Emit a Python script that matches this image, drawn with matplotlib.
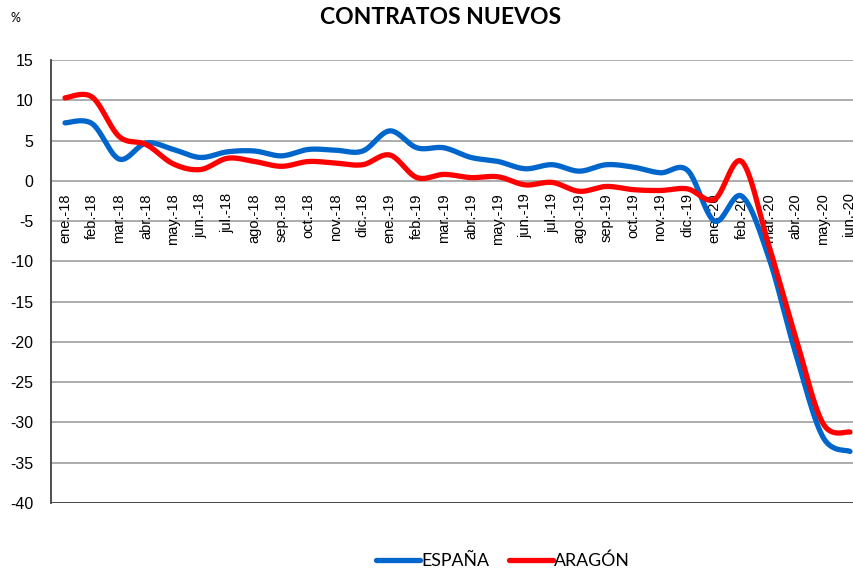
import numpy as np
import matplotlib
matplotlib.use('Agg')
import matplotlib.pyplot as plt
from matplotlib.lines import Line2D

# 데이터
meses = ['ene.-18', 'feb.-18', 'mar.-18', 'abr.-18', 'may.-18', 'jun.-18',
         'jul.-18', 'ago.-18', 'sep.-18', 'oct.-18', 'nov.-18', 'dic.-18',
         'ene.-19', 'feb.-19', 'mar.-19', 'abr.-19', 'may.-19', 'jun.-19',
         'jul.-19', 'ago.-19', 'sep.-19', 'oct.-19', 'nov.-19', 'dic.-19',
         'ene.-20', 'feb.-20', 'mar.-20', 'abr.-20', 'may.-20', 'jun.-20']

espana = [7.2, 7.1, 2.7, 4.7, 3.9, 2.9, 3.6, 3.7, 3.1, 3.9, 3.8, 3.7,
          6.2, 4.1, 4.1, 2.9, 2.4, 1.5, 2.0, 1.2, 2.0, 1.7, 1.0, 1.3,
          -5.0, -1.9, -9.5, -21.5, -31.8, -33.6]

aragon = [10.3, 10.4, 5.5, 4.5, 2.1, 1.4, 2.8, 2.4, 1.8, 2.4, 2.2, 2.0,
          3.2, 0.4, 0.8, 0.4, 0.5, -0.5, -0.2, -1.3, -0.7, -1.1, -1.2, -1.0,
          -2.3, 2.4, -8.0, -19.5, -30.1, -31.2]

yticks = list(range(15, -45, -5))


def suavizar(y, n=24):
    """Excel 스타일 곡선 (Catmull-Rom -> Bezier)"""
    p = np.column_stack([np.arange(len(y)), np.asarray(y, float)])
    xs, ys = [], []
    for i in range(len(p) - 1):
        p0 = p[max(i - 1, 0)]
        p1 = p[i]
        p2 = p[i + 1]
        p3 = p[min(i + 2, len(p) - 1)]
        c1 = p1 + (p2 - p0) / 6
        c2 = p2 - (p3 - p1) / 6
        t = np.linspace(0, 1, n)[:, None]
        b = ((1 - t) ** 3) * p1 + 3 * ((1 - t) ** 2) * t * c1 \
            + 3 * (1 - t) * t ** 2 * c2 + t ** 3 * p2
        xs.append(b[:, 0])
        ys.append(b[:, 1])
    return np.concatenate(xs), np.concatenate(ys)


fig = plt.figure(figsize=(8.54, 5.68), dpi=100)
W, H = 854, 568
ax = fig.add_axes([51.5 / W, 1 - 503 / H, (863.5 - 51.5) / W, (503 - 60) / H])

# 그리드
for v in yticks:
    ax.axhline(v, color='#a6a6a6', linewidth=1.3, zorder=0)

x, y = suavizar(espana)
ax.plot(x, y, color='#0066cc', linewidth=3.8, solid_capstyle='round', zorder=3)
x, y = suavizar(aragon)
ax.plot(x, y, color='#ff0000', linewidth=3.8, solid_capstyle='round', zorder=3)

ax.set_xlim(-0.5, len(meses) - 0.5)
ax.set_ylim(-40, 15)
ax.set_yticks(yticks)
ax.set_yticklabels([str(v) for v in yticks], fontfamily='Liberation Sans', fontsize=11.5)
ax.tick_params(axis='y', length=0, pad=13)

# 범주 축은 0에서 교차
ax.spines['bottom'].set_position(('data', 0))
ax.spines['bottom'].set_visible(False)
ax.set_xticks(range(len(meses)))
ax.set_xticklabels(meses, rotation=90, fontfamily='Liberation Sans', fontsize=10.5)
ax.tick_params(axis='x', length=0, pad=9)

for s in ['top', 'right']:
    ax.spines[s].set_visible(False)
ax.spines['left'].set_color('#404040')
ax.spines['left'].set_linewidth(1.3)
ax.axhline(-40, color='#404040', linewidth=1.3, zorder=1)

fig.text(441 / W, 1 - 17 / H, 'CONTRATOS NUEVOS', ha='center', va='center',
         fontfamily='Lato', fontweight='bold', fontsize=16.5)
fig.text(11 / W, 1 - 18 / H, '%', ha='left', va='center',
         fontfamily='Lato', fontsize=9)

handles = [Line2D([], [], color='#0066cc', linewidth=3.8, solid_capstyle='round'),
           Line2D([], [], color='#ff0000', linewidth=3.8, solid_capstyle='round')]
fig.legend(handles, ['ESPAÑA', 'ARAGÓN'], loc='center', bbox_to_anchor=(503 / W, 1 - 561 / H),
           ncol=2, frameon=False, prop={'family': 'Lato', 'size': 12.8},
           handlelength=2.5, handletextpad=0.05, columnspacing=1.1)

fig.savefig('out.png', dpi=100)
